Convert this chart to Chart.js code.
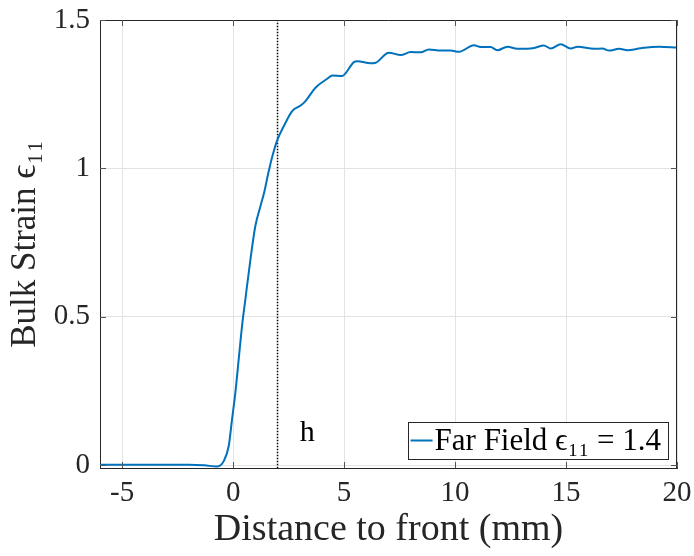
<!DOCTYPE html>
<html><head><meta charset="utf-8">
<script src="https://cdn.jsdelivr.net/npm/chart.js@4/dist/chart.umd.min.js"></script>
<style>html,body{margin:0;padding:0;background:#fff}</style>
</head><body>
<canvas id="c" width="694" height="556"></canvas>
<script>
const distance = [-6, -4, -2, -1.3, -0.72, -0.42, -0.2, -0.05, 0.1, 0.25, 0.4, 0.55, 0.78, 1.0, 1.23, 1.4, 1.6, 1.8, 2.0, 2.28, 2.66, 3.04, 3.26, 3.71, 4.24, 4.47, 4.9, 5.44, 5.6, 6.2, 6.42, 7.02, 7.55, 8.0, 8.45, 8.82, 9.35, 9.8, 10.18, 10.85, 11.15, 11.6, 11.9, 12.36, 12.8, 13.56, 14.0, 14.31, 14.76, 15.21, 15.52, 16.27, 16.64, 16.94, 17.39, 17.77, 18.37, 19.2, 20.0];
const strain = [0.002, 0.002, 0.002, 0.0, -0.004, 0.015, 0.065, 0.155, 0.245, 0.357, 0.469, 0.559, 0.694, 0.806, 0.873, 0.92, 0.99, 1.05, 1.098, 1.142, 1.193, 1.212, 1.227, 1.272, 1.302, 1.313, 1.311, 1.358, 1.361, 1.354, 1.356, 1.390, 1.382, 1.392, 1.391, 1.401, 1.397, 1.397, 1.393, 1.415, 1.409, 1.409, 1.398, 1.410, 1.403, 1.406, 1.414, 1.404, 1.418, 1.404, 1.410, 1.403, 1.404, 1.397, 1.403, 1.398, 1.405, 1.410, 1.407];
const xTicks = [-5, 0, 5, 10, 15, 20];
const yTicks = [0, 0.5, 1, 1.5];
const hPosition = 2;
const hLabel = 'h';
const farField = 1.4;
const xLabel = 'Distance to front (mm)';
const yLabel = 'Bulk Strain ϵ₁₁';
const legendLabel = 'Far Field ϵ₁₁ = ' + farField;

const SERIF = "'Liberation Serif', 'DejaVu Serif', serif";
const AX = '#262626';

const extras = {
  id: 'extras',
  afterDraw(chart) {
    const ctx = chart.ctx, a = chart.chartArea, xs = chart.scales.x, ys = chart.scales.y;
    ctx.save();
    ctx.strokeStyle = AX; ctx.lineWidth = 1;
    ctx.beginPath();
    ctx.moveTo(a.left, a.top + 0.5); ctx.lineTo(a.right, a.top + 0.5);
    ctx.moveTo(a.right - 0.5, a.top); ctx.lineTo(a.right - 0.5, a.bottom);
    ctx.stroke();
    ctx.strokeStyle = '#555';
    ctx.beginPath();
    xTicks.forEach(v => {
      const p = Math.round(xs.getPixelForValue(v)) + 0.5;
      ctx.moveTo(p, a.bottom); ctx.lineTo(p, a.bottom - 6);
      ctx.moveTo(p, a.top); ctx.lineTo(p, a.top + 6);
    });
    yTicks.forEach(v => {
      const p = Math.round(ys.getPixelForValue(v)) + 0.5;
      ctx.moveTo(a.left, p); ctx.lineTo(a.left + 6, p);
      ctx.moveTo(a.right, p); ctx.lineTo(a.right - 6, p);
    });
    ctx.stroke();
    ctx.fillStyle = '#000';
    ctx.font = '30px ' + SERIF;
    ctx.textBaseline = 'middle'; ctx.textAlign = 'left';
    ctx.fillText(hLabel, xs.getPixelForValue(3.0), ys.getPixelForValue(0.11));
    const ds = chart.data.datasets[0];
    ctx.font = '31px ' + SERIF;
    const tw = ctx.measureText(ds.label).width;
    const bx1 = a.right - 9, by2 = a.bottom - 9;
    const bw = 28 + tw + 6, bh = 37;
    const bx0 = bx1 - bw, by0 = by2 - bh;
    ctx.fillStyle = '#fff';
    ctx.fillRect(bx0, by0, bw, bh);
    ctx.strokeStyle = AX; ctx.lineWidth = 1;
    ctx.strokeRect(Math.round(bx0) + 0.5, Math.round(by0) + 0.5, Math.round(bw), Math.round(bh));
    ctx.strokeStyle = ds.borderColor; ctx.lineWidth = 2;
    ctx.beginPath();
    ctx.moveTo(bx0 + 3, by0 + bh / 2); ctx.lineTo(bx0 + 25, by0 + bh / 2);
    ctx.stroke();
    ctx.fillStyle = '#000';
    ctx.textBaseline = 'middle';
    ctx.fillText(ds.label, bx0 + 27, by0 + bh / 2 + 1);
    ctx.restore();
  }
};

new Chart(document.getElementById('c'), {
  type: 'line',
  data: {
    datasets: [
      {
        label: legendLabel,
        data: distance.map((x, i) => ({x, y: strain[i]})),
        borderColor: '#0072BD',
        borderWidth: 2,
        pointRadius: 0,
        cubicInterpolationMode: 'monotone',
        fill: false
      },
      {
        label: 'h',
        data: [{x: hPosition, y: -0.01}, {x: hPosition, y: 1.5}],
        borderColor: '#000',
        borderWidth: 1.5,
        borderDash: [1.5, 1.5],
        pointRadius: 0,
        fill: false
      }
    ]
  },
  options: {
    responsive: false,
    animation: false,
    layout: {padding: {top: 20, right: 17, left: 5, bottom: 0}},
    plugins: {legend: {display: false}, tooltip: {enabled: false}},
    scales: {
      x: {
        type: 'linear', min: -6, max: 20,
        afterBuildTicks: s => { s.ticks = xTicks.map(v => ({value: v})); },
        afterFit: s => { s.height = 88; s.paddingLeft = 0; s.paddingRight = 0; },
        grid: {color: '#e3e3e3', lineWidth: 1, drawTicks: false},
        border: {display: true, color: AX, width: 1},
        ticks: {color: '#262626', font: {family: SERIF, size: 29}, padding: 8, maxRotation: 0,
                callback: v => String(v)},
        title: {display: true, text: xLabel, color: '#262626', font: {family: SERIF, size: 38}, padding: {top: 0, bottom: 3}}
      },
      y: {
        type: 'linear', min: -0.009, max: 1.5,
        afterBuildTicks: s => { s.ticks = yTicks.map(v => ({value: v})); },
        afterFit: s => { s.width = 95; s.paddingTop = 0; s.paddingBottom = 0; },
        grid: {color: '#e3e3e3', lineWidth: 1, drawTicks: false},
        border: {display: true, color: AX, width: 1},
        ticks: {color: '#262626', font: {family: SERIF, size: 29}, padding: 10,
                callback: v => String(v)},
        title: {display: true, text: yLabel, color: '#262626', font: {family: SERIF, size: 35}, padding: {top: 0, bottom: 0}}
      }
    }
  },
  plugins: [extras]
});
</script>
</body></html>
